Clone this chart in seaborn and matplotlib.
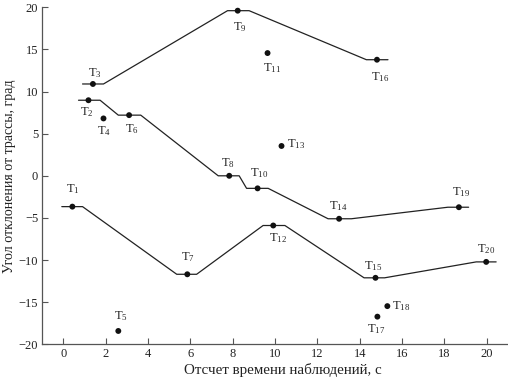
import matplotlib
matplotlib.use("Agg")
import matplotlib.pyplot as plt
import seaborn as sns
import pandas as pd

# ---- data ----
line_a_x = [0.90, 1.89, 7.75, 8.77, 14.31, 15.33]
line_a_y = [10.9, 10.9, 19.6, 19.6, 13.78, 13.78]

line_b_x = [0.71, 1.73, 2.59, 3.65, 7.31, 8.30, 8.65, 9.67, 12.5, 13.6, 18.16, 19.14]
line_b_y = [8.97, 8.97, 7.2, 7.2, 0.0, 0.0, -1.49, -1.49, -5.1, -5.1, -3.73, -3.73]

line_c_x = [-0.08, 0.90, 5.35, 6.29, 9.43, 10.46, 14.2, 15.17, 19.5, 20.44]
line_c_y = [-3.66, -3.66, -11.69, -11.69, -5.9, -5.9, -12.11, -12.11, -10.22, -10.22]

point_ids = list(range(1, 21))
point_x = [0.42, 1.18, 1.39, 1.89, 2.59, 3.10, 5.85, 7.83, 8.23, 9.17,
           9.64, 9.91, 10.30, 13.02, 14.74, 14.81, 14.83, 15.30, 18.68, 19.97]
point_y = [-3.66, 8.97, 10.9, 6.81, -18.42, 7.2, -11.69, 0.0, 19.6, -1.49,
           14.57, -5.9, 3.54, -5.1, -12.11, 13.78, -16.72, -15.47, -3.73, -10.22]

x_ticks = [0, 2, 4, 6, 8, 10, 12, 14, 16, 18, 20]
y_ticks = [-20, -15, -10, -5, 0, 5, 10, 15, 20]
x_label = "Отсчет времени наблюдений, с"
y_label = "Угол отклонения от трассы, град"

# label offsets (pixels, dx right, dy down) relative to the points
label_dx = [0, -2, 2, 1, 3, 3, 1, -1, 2, 2, 4, 5, 15, -1, -2, 3, -1, 14, 2, 0]
label_dy = [-18, 12, -11, 13, -15, 14, -17, -13, 16, -15, 15, 13, -2, -13, -12, 17, 12, 0, -15, -13]

# ---- style ----
sns.set_theme(style="ticks")
plt.rcParams["font.family"] = ["Liberation Serif", "DejaVu Serif"]
plt.rcParams["mathtext.fontset"] = "custom"
plt.rcParams["mathtext.rm"] = "Liberation Serif"
plt.rcParams["mathtext.it"] = "Liberation Serif:italic"

fig = plt.figure(figsize=(5.08, 3.79), dpi=100)
ax = fig.add_axes([0.0833, 0.0916, 0.9167, 0.8891])

ink = "#222222"
for lx, ly in [(line_a_x, line_a_y), (line_b_x, line_b_y), (line_c_x, line_c_y)]:
    df = pd.DataFrame({"x": lx, "y": ly})
    sns.lineplot(data=df, x="x", y="y", sort=False, estimator=None,
                 color=ink, linewidth=0.9, ax=ax)

pts = pd.DataFrame({"x": point_x, "y": point_y, "id": point_ids})
sns.scatterplot(data=pts, x="x", y="y", color="#111111", s=18,
                edgecolor="none", ax=ax, zorder=5)

for i, x, y, dx, dy in zip(point_ids, point_x, point_y, label_dx, label_dy):
    ax.annotate(r"$\mathregular{T_{%d}}$" % i, (x, y),
                xytext=(dx * 0.72, -dy * 0.72), textcoords="offset points",
                ha="center", va="center", fontsize=9, color=ink)

ax.set_xlim(-1, 21)
ax.set_ylim(-20, 20)
ax.set_xticks(x_ticks)
ax.set_yticks(y_ticks)
ax.set_xticklabels([str(t) for t in x_ticks])
ax.set_yticklabels([str(t).replace("-", "\u2212") for t in y_ticks])
ax.set_xlabel(x_label, fontsize=10.8, color=ink, labelpad=1)
ax.set_ylabel(y_label, fontsize=10, color=ink, labelpad=2)
ax.xaxis.set_label_coords(0.517, -0.055)

sns.despine(ax=ax)
for s in ["left", "bottom"]:
    ax.spines[s].set_color("#555555")
    ax.spines[s].set_linewidth(0.9)
ax.tick_params(direction="in", length=4, width=0.8, color="#555555",
               labelsize=9, labelcolor=ink, pad=3)

fig.savefig("out.png", dpi=100)
